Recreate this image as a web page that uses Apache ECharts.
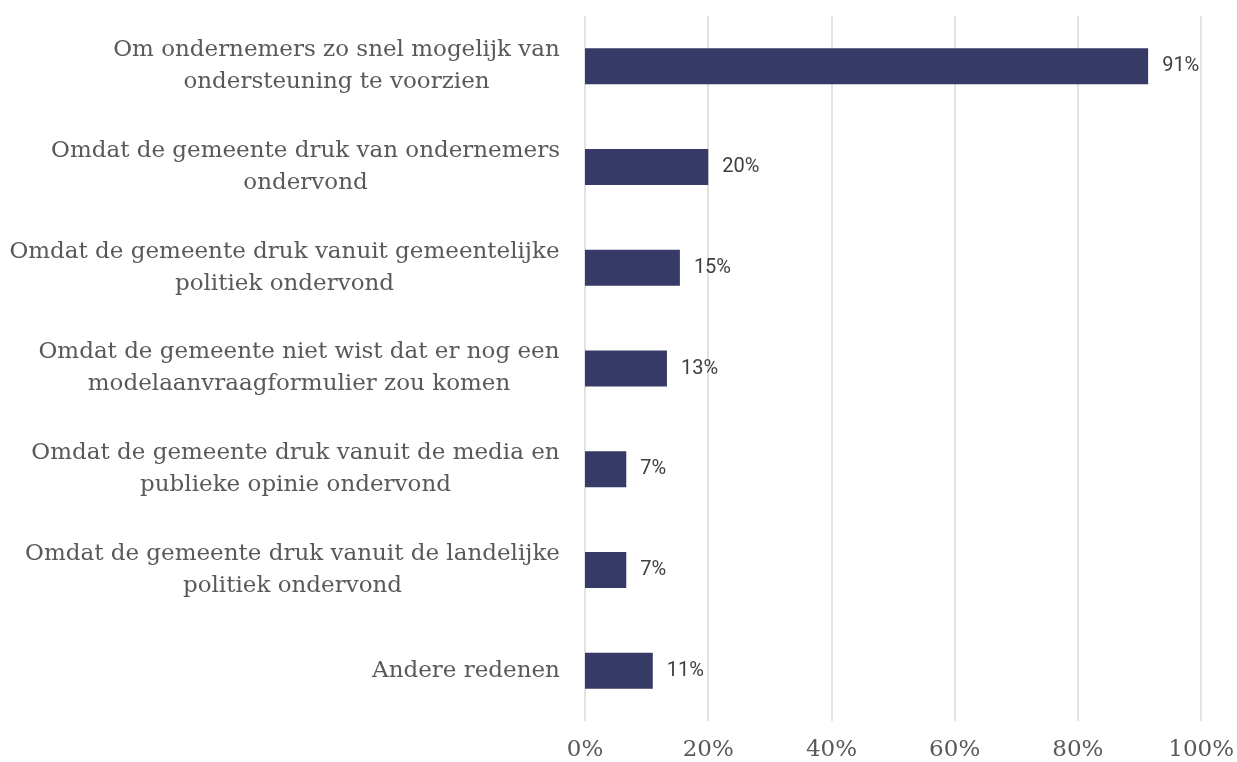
<!DOCTYPE html>
<html>
<head>
<meta charset="utf-8">
<script src="https://cdn.jsdelivr.net/npm/echarts@6/dist/echarts.min.js"></script>
<style>
html,body{margin:0;padding:0;background:#fff;}
#chart{width:1237px;height:762px;}
</style>
</head>
<body>
<div id="chart"></div>
<script>
const categories = [
  "Om ondernemers zo snel mogelijk van\nondersteuning te voorzien",
  "Omdat de gemeente druk van ondernemers\nondervond",
  "Omdat de gemeente druk vanuit gemeentelijke\npolitiek ondervond",
  "Omdat de gemeente niet wist dat er nog een\nmodelaanvraagformulier zou komen",
  "Omdat de gemeente druk vanuit de media en\npublieke opinie ondervond",
  "Omdat de gemeente druk vanuit de landelijke\npolitiek ondervond",
  "Andere redenen"
];
const values = [91.4, 20.0, 15.4, 13.3, 6.7, 6.7, 11.0];
const xTicks = [0, 20, 40, 60, 80, 100];

const catFont = '"DejaVu Serif", serif';
const catSize = 23;
const canvas = document.createElement('canvas');
const ctx = canvas.getContext('2d');
ctx.font = catSize + 'px ' + catFont;
const rich = {};
categories.forEach((c, i) => {
  const w = Math.max(...c.split('\n').map(l => ctx.measureText(l).width));
  rich['c' + i] = {
    width: Math.ceil(w), align: 'center',
    fontFamily: catFont, fontSize: catSize, color: '#595959', lineHeight: 32
  };
});

const chart = echarts.init(document.getElementById('chart'), null, {renderer: 'canvas'});
chart.setOption({
  animation: false,
  backgroundColor: '#ffffff',
  grid: {left: 585, right: 35.5, top: 16, bottom: 41, containLabel: false},
  xAxis: {
    type: 'value', min: 0, max: 100, interval: 20,
    axisLine: {show: false}, axisTick: {show: false},
    splitLine: {show: true, lineStyle: {color: '#d9d9d9', width: 1.5}},
    axisLabel: {
      margin: 18, color: '#595959', fontFamily: catFont, fontSize: 23,
      formatter: v => xTicks.includes(v) ? v + '%' : ''
    }
  },
  yAxis: {
    type: 'category', data: categories, inverse: true,
    axisLine: {show: false}, axisTick: {show: false},
    axisLabel: {
      margin: 25, align: 'right',
      formatter: (v) => {
        const i = categories.indexOf(v);
        return v.split('\n').map(l => '{c' + i + '|' + l + '}').join('\n');
      },
      rich: rich
    }
  },
  series: [{
    type: 'bar', data: values, barWidth: 36,
    itemStyle: {color: '#363a66'},
    label: {
      show: true, position: 'right', distance: 14,
      color: '#404040', fontFamily: 'Roboto', fontSize: 20,
      formatter: p => Math.round(p.value) + '%'
    }
  }]
});
</script>
</body>
</html>
